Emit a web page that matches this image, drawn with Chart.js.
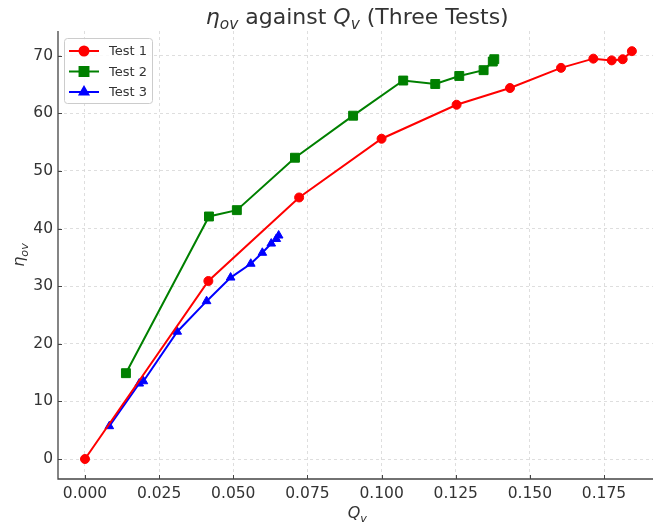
<!DOCTYPE html>
<html>
<head>
<meta charset="utf-8">
<script src="https://cdn.jsdelivr.net/npm/chart.js@4.4.0/dist/chart.umd.min.js"></script>
<style>
  html, body { margin: 0; padding: 0; background: #fff; overflow: hidden; width: 653px; height: 527px; }
  #wrap { width: 653px; height: 527px; overflow: hidden; position: relative; }
  #chart { position: absolute; left: 0; top: 0; }
</style>
</head>
<body>
<div id="wrap"><canvas id="chart" width="670" height="527"></canvas></div>
<script>
// values
const test1Q   = [0.000, 0.0416, 0.0722, 0.1000, 0.1253, 0.1433, 0.1605, 0.1714, 0.1776, 0.1813, 0.1844];
const test1Eta = [0.0, 30.9, 45.4, 55.6, 61.5, 64.4, 67.9, 69.5, 69.2, 69.4, 70.8];

const test2Q   = [0.0138, 0.0418, 0.0512, 0.0708, 0.0904, 0.1073, 0.1181, 0.1262, 0.1344, 0.1375, 0.1380];
const test2Eta = [14.9, 42.1, 43.2, 52.3, 59.6, 65.7, 65.1, 66.5, 67.5, 69.0, 69.4];

const test3Q   = [0.0082, 0.0183, 0.0197, 0.0311, 0.0410, 0.0491, 0.0559, 0.0598, 0.0628, 0.0645, 0.0653];
const test3Eta = [5.7, 13.1, 13.5, 22.1, 27.4, 31.5, 33.9, 35.8, 37.4, 38.2, 38.8];

const xTicks = [0, 0.025, 0.05, 0.075, 0.1, 0.125, 0.15, 0.175];
const yTicks = [0, 10, 20, 30, 40, 50, 60, 70];

const FONT = "'DejaVu Sans', sans-serif";
const TEXT = "#333333";

function pts(xs, ys) {
  return xs.map((x, i) => ({ x: x, y: ys[i] }));
}

// draws text with italic / subscript pieces (mathtext look)
function richWidth(ctx, segs, size) {
  let w = 0;
  segs.forEach(s => {
    const fs = s.sub ? size * 0.7 : size;
    ctx.font = (s.it ? "italic " : "") + fs + "px " + FONT;
    w += ctx.measureText(s.t).width;
  });
  return w;
}
function drawRich(ctx, segs, x, y, size) {
  let cx = x - richWidth(ctx, segs, size) / 2;
  ctx.textAlign = "left";
  ctx.textBaseline = "alphabetic";
  segs.forEach(s => {
    const fs = s.sub ? size * 0.7 : size;
    ctx.font = (s.it ? "italic " : "") + fs + "px " + FONT;
    ctx.fillText(s.t, cx, y + (s.sub ? size * 0.22 : 0));
    cx += ctx.measureText(s.t).width;
  });
}

const decor = {
  id: "decor",
  afterDraw(chart) {
    const ctx = chart.ctx;
    const a = chart.chartArea;
    const xs = chart.scales.x, ys = chart.scales.y;
    ctx.save();
    ctx.fillStyle = TEXT;

    // spines (left + bottom) and inward ticks
    ctx.strokeStyle = "#444";
    ctx.lineWidth = 1.3;
    ctx.beginPath();
    ctx.moveTo(a.left, a.top);
    ctx.lineTo(a.left, a.bottom);
    ctx.lineTo(a.right, a.bottom);
    ctx.stroke();
    ctx.lineWidth = 1;
    ctx.beginPath();
    xTicks.forEach(v => {
      const px = Math.round(xs.getPixelForValue(v)) + 0.5;
      ctx.moveTo(px, a.bottom); ctx.lineTo(px, a.bottom - 4);
    });
    yTicks.forEach(v => {
      const py = Math.round(ys.getPixelForValue(v)) + 0.5;
      ctx.moveTo(a.left, py); ctx.lineTo(a.left + 4, py);
    });
    ctx.stroke();

    // title and axis titles
    drawRich(ctx, [{t: "\u03B7", it: 1}, {t: "ov", it: 1, sub: 1}, {t: " against "},
                   {t: "Q", it: 1}, {t: "v", it: 1, sub: 1}, {t: " (Three Tests)"}],
             (a.left + a.right) / 2, 24, 22);
    drawRich(ctx, [{t: "Q", it: 1}, {t: "v", it: 1, sub: 1}], (a.left + a.right) / 2, 518, 16);
    ctx.save();
    ctx.translate(24, (a.top + a.bottom) / 2);
    ctx.rotate(-Math.PI / 2);
    drawRich(ctx, [{t: "\u03B7", it: 1}, {t: "ov", it: 1, sub: 1}], 0, 0, 16);
    ctx.restore();

    // legend: line through marker like the reference
    const lx = a.left + 6, ly = a.top + 7, lw = 88, lh = 65;
    ctx.fillStyle = "rgba(255,255,255,0.85)";
    ctx.strokeStyle = "#cccccc";
    ctx.lineWidth = 1;
    ctx.beginPath();
    ctx.roundRect(lx + 0.5, ly + 0.5, lw, lh, 3);
    ctx.fill();
    ctx.stroke();
    chart.data.datasets.forEach((ds, i) => {
      const yy = ly + 13 + i * 20.5;
      ctx.strokeStyle = ds.borderColor;
      ctx.lineWidth = 2;
      ctx.beginPath();
      ctx.moveTo(lx + 5, yy); ctx.lineTo(lx + 35, yy);
      ctx.stroke();
      ctx.fillStyle = ds.backgroundColor;
      Chart.helpers.drawPoint(ctx, {pointStyle: ds.pointStyle, radius: ds.pointRadius, rotation: 0, borderWidth: 1}, lx + 20, yy);
      ctx.fillStyle = TEXT;
      ctx.font = "13px " + FONT;
      ctx.textAlign = "left";
      ctx.textBaseline = "middle";
      ctx.fillText(ds.label, lx + 45, yy + 1);
    });
    ctx.restore();
  }
};

new Chart(document.getElementById("chart"), {
  type: "line",
  data: {
    datasets: [
      { label: "Test 1", data: pts(test1Q, test1Eta), borderColor: "#ff0000", backgroundColor: "#ff0000",
        pointStyle: "circle", pointRadius: 4.5 },
      { label: "Test 2", data: pts(test2Q, test2Eta), borderColor: "#008000", backgroundColor: "#008000",
        pointStyle: "rect", pointRadius: 6.3 },
      { label: "Test 3", data: pts(test3Q, test3Eta), borderColor: "#0000ff", backgroundColor: "#0000ff",
        pointStyle: "triangle", pointRadius: 5 }
    ]
  },
  options: {
    responsive: false,
    animation: false,
    parsing: false,
    elements: {
      line: { borderWidth: 2, tension: 0 },
      point: { borderWidth: 1, hoverRadius: 5 }
    },
    layout: { padding: { top: 31, right: 13.5, left: 0, bottom: 0 } },
    plugins: { legend: { display: false }, title: { display: false }, tooltip: { enabled: false } },
    scales: {
      x: {
        type: "linear",
        min: -0.0091, max: 0.1927,
        afterFit: s => { s.height = 48; },
        afterBuildTicks: s => { s.ticks = xTicks.map(v => ({ value: v })); },
        grid: { color: "#d6d6d6", lineWidth: 0.8, drawTicks: false },
        border: { display: false, dash: [3, 3] },
        ticks: { padding: 6, color: TEXT, font: { family: FONT, size: 15.5 },
                 callback: v => v.toFixed(3) }
      },
      y: {
        type: "linear",
        min: -3.47, max: 74.3,
        afterFit: s => { s.width = 58; },
        afterBuildTicks: s => { s.ticks = yTicks.map(v => ({ value: v })); },
        grid: { color: "#d6d6d6", lineWidth: 0.8, drawTicks: false },
        border: { display: false, dash: [3, 3] },
        ticks: { padding: 5, color: TEXT, font: { family: FONT, size: 15.5 } }
      }
    }
  },
  plugins: [decor]
});
</script>
</body>
</html>
